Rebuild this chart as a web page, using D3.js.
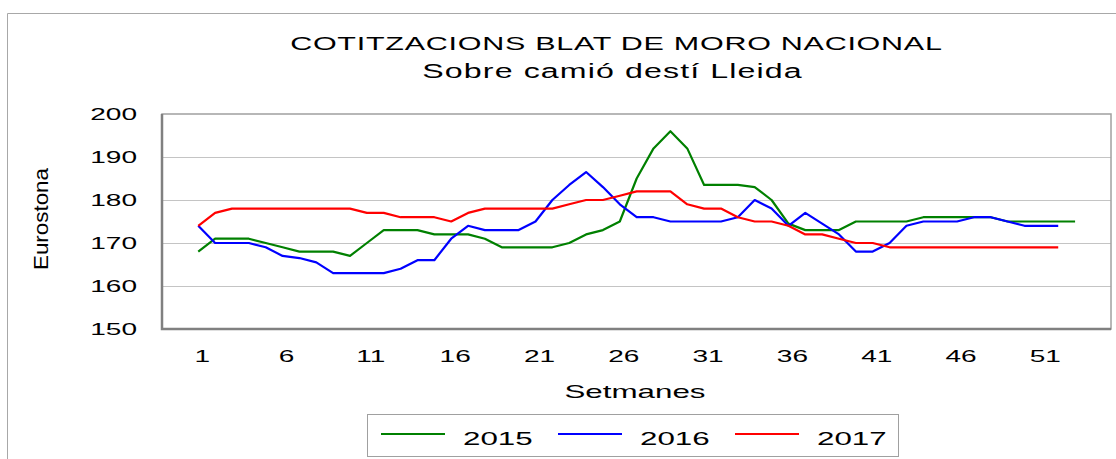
<!DOCTYPE html>
<html>
<head>
  <meta charset="utf-8">
  <title>Cotitzacions blat de moro nacional</title>
  <script src="https://d3js.org/d3.v7.min.js"></script>
  <style>
    body { margin: 0; background: #fff; }
    text { font-family: "Liberation Sans", Arial, sans-serif; fill: #000; }
  </style>
</head>
<body>
  <div id="chart"></div>

  <script>
    // weekly prices (euros/tona)
    var series_names = ['2015', '2016', '2017'];
    var series_colors = ['#008000', '#0000ff', '#ff0000'];

    var values_2015 = [168, 171, 171, 171, 170, 169, 168, 168, 168, 167,
                       170, 173, 173, 173, 172, 172, 172, 171, 169, 169,
                       169, 169, 170, 172, 173, 175, 185, 192, 196, 192,
                       183.5, 183.5, 183.5, 183, 180, 174.5, 173, 173, 173, 175,
                       175, 175, 175, 176, 176, 176, 176, 176, 175, 175,
                       175, 175, 175];
    var values_2016 = [174, 170, 170, 170, 169, 167, 166.5, 165.5, 163, 163,
                       163, 163, 164, 166, 166, 171, 174, 173, 173, 173,
                       175, 180, 183.5, 186.5, 183, 179, 176, 176, 175, 175,
                       175, 175, 176, 180, 178, 174, 177, 174.5, 172, 168,
                       168, 170, 174, 175, 175, 175, 176, 176, 175, 174,
                       174, 174];
    var values_2017 = [174, 177, 178, 178, 178, 178, 178, 178, 178, 178,
                       177, 177, 176, 176, 176, 175, 177, 178, 178, 178,
                       178, 178, 179, 180, 180, 181, 182, 182, 182, 179,
                       178, 178, 176, 175, 175, 174, 172, 172, 171, 170,
                       170, 169, 169, 169, 169, 169, 169, 169, 169, 169,
                       169, 169];

    var week_ticks = [1, 6, 11, 16, 21, 26, 31, 36, 41, 46, 51];
    var price_ticks = [150, 160, 170, 180, 190, 200];
    var title_lines = ['COTITZACIONS BLAT DE MORO NACIONAL', 'Sobre camió destí Lleida'];

    var all_series = [values_2015, values_2016, values_2017];

    var W = 1116, H = 459;
    var plot = { left: 162, right: 1111, top: 114, bottom: 329 };
    var sx = 1.65; // the original picture is stretched sideways

    var svg = d3.select('#chart').append('svg')
      .attr('width', W)
      .attr('height', H);

    var x = d3.scaleLinear()
      .domain([-1.15, 55.13])
      .range([plot.left, plot.right]);

    var y = d3.scaleLinear()
      .domain([150, 200])
      .range([plot.bottom, plot.top]);

    // helper for sideways-stretched text
    function addText(px, py, str, size, anchor, stretch) {
      var g = svg.append('g')
        .attr('transform', 'translate(' + px + ',' + py + ') scale(' + stretch + ',1)');
      return g.append('text')
        .attr('text-anchor', anchor)
        .style('font-size', size + 'px')
        .text(str);
    }

    // outer chart border (runs off the picture at right and bottom)
    svg.append('path')
      .attr('d', 'M7.5,' + H + 'V13.5H' + W)
      .attr('fill', 'none')
      .attr('stroke', '#a8a8a8')
      .attr('stroke-width', 1);

    // titles
    addText(616, 50, title_lines[0], 18.5, 'middle', sx)
      .attr('textLength', 395)
      .attr('lengthAdjust', 'spacing');
    addText(612, 78, title_lines[1], 19.5, 'middle', sx)
      .attr('textLength', 230)
      .attr('lengthAdjust', 'spacing');

    // gridlines
    svg.append('g')
      .selectAll('line')
      .data(price_ticks.filter(function(d) { return d > 150 && d < 200; }))
      .enter()
      .append('line')
      .attr('x1', plot.left)
      .attr('x2', plot.right)
      .attr('y1', function(d) { return y(d) + 0.5; })
      .attr('y2', function(d) { return y(d) + 0.5; })
      .attr('stroke', '#c4c4c4')
      .attr('stroke-width', 1);

    // plot frame
    svg.append('rect')
      .attr('x', plot.left)
      .attr('y', plot.top)
      .attr('width', plot.right - plot.left)
      .attr('height', plot.bottom - plot.top)
      .attr('fill', 'none')
      .attr('stroke', '#a0a0a0')
      .attr('stroke-width', 1.5);
    svg.append('path')
      .attr('d', 'M' + plot.left + ',' + plot.top + 'V' + plot.bottom + 'H' + plot.right)
      .attr('fill', 'none')
      .attr('stroke', '#808080')
      .attr('stroke-width', 2.5);

    // y tick labels
    price_ticks.forEach(function(v) {
      addText(137, y(v) + 6, v, 17, 'end', sx);
    });

    // x tick labels
    week_ticks.forEach(function(w) {
      addText(x(w) + 4, 362, w, 17, 'middle', sx);
    });

    // axis titles
    addText(635, 398, 'Setmanes', 19, 'middle', sx);
    svg.append('g')
      .attr('transform', 'translate(48,219) scale(1.3,1) rotate(-90)')
      .append('text')
      .attr('text-anchor', 'middle')
      .attr('textLength', 102)
      .attr('lengthAdjust', 'spacingAndGlyphs')
      .style('font-size', '15px')
      .text('Eurostona');

    // lines
    var line = d3.line()
      .x(function(d, i) { return x(i + 1); })
      .y(function(d) { return y(d); });

    svg.append('g')
      .selectAll('path')
      .data(all_series)
      .enter()
      .append('path')
      .attr('d', line)
      .attr('fill', 'none')
      .attr('stroke', function(d, i) { return series_colors[i]; })
      .attr('stroke-width', 2.2)
      .attr('stroke-linejoin', 'round');

    // legend
    svg.append('rect')
      .attr('x', 367.5)
      .attr('y', 414.5)
      .attr('width', 531)
      .attr('height', 42)
      .attr('fill', '#fff')
      .attr('stroke', '#a0a0a0')
      .attr('stroke-width', 1);

    var legend = svg.append('g')
      .selectAll('g')
      .data(series_names)
      .enter()
      .append('g')
      .attr('transform', function(d, i) { return 'translate(' + (381 + i * 177) + ',0)'; });

    legend.append('line')
      .attr('x1', 0)
      .attr('x2', 64)
      .attr('y1', 434)
      .attr('y2', 434)
      .attr('stroke', function(d, i) { return series_colors[i]; })
      .attr('stroke-width', 2);

    legend.append('g')
      .attr('transform', 'translate(82,445) scale(' + sx + ',1)')
      .append('text')
      .style('font-size', '19px')
      .text(function(d) { return d; });
  </script>
</body>
</html>
